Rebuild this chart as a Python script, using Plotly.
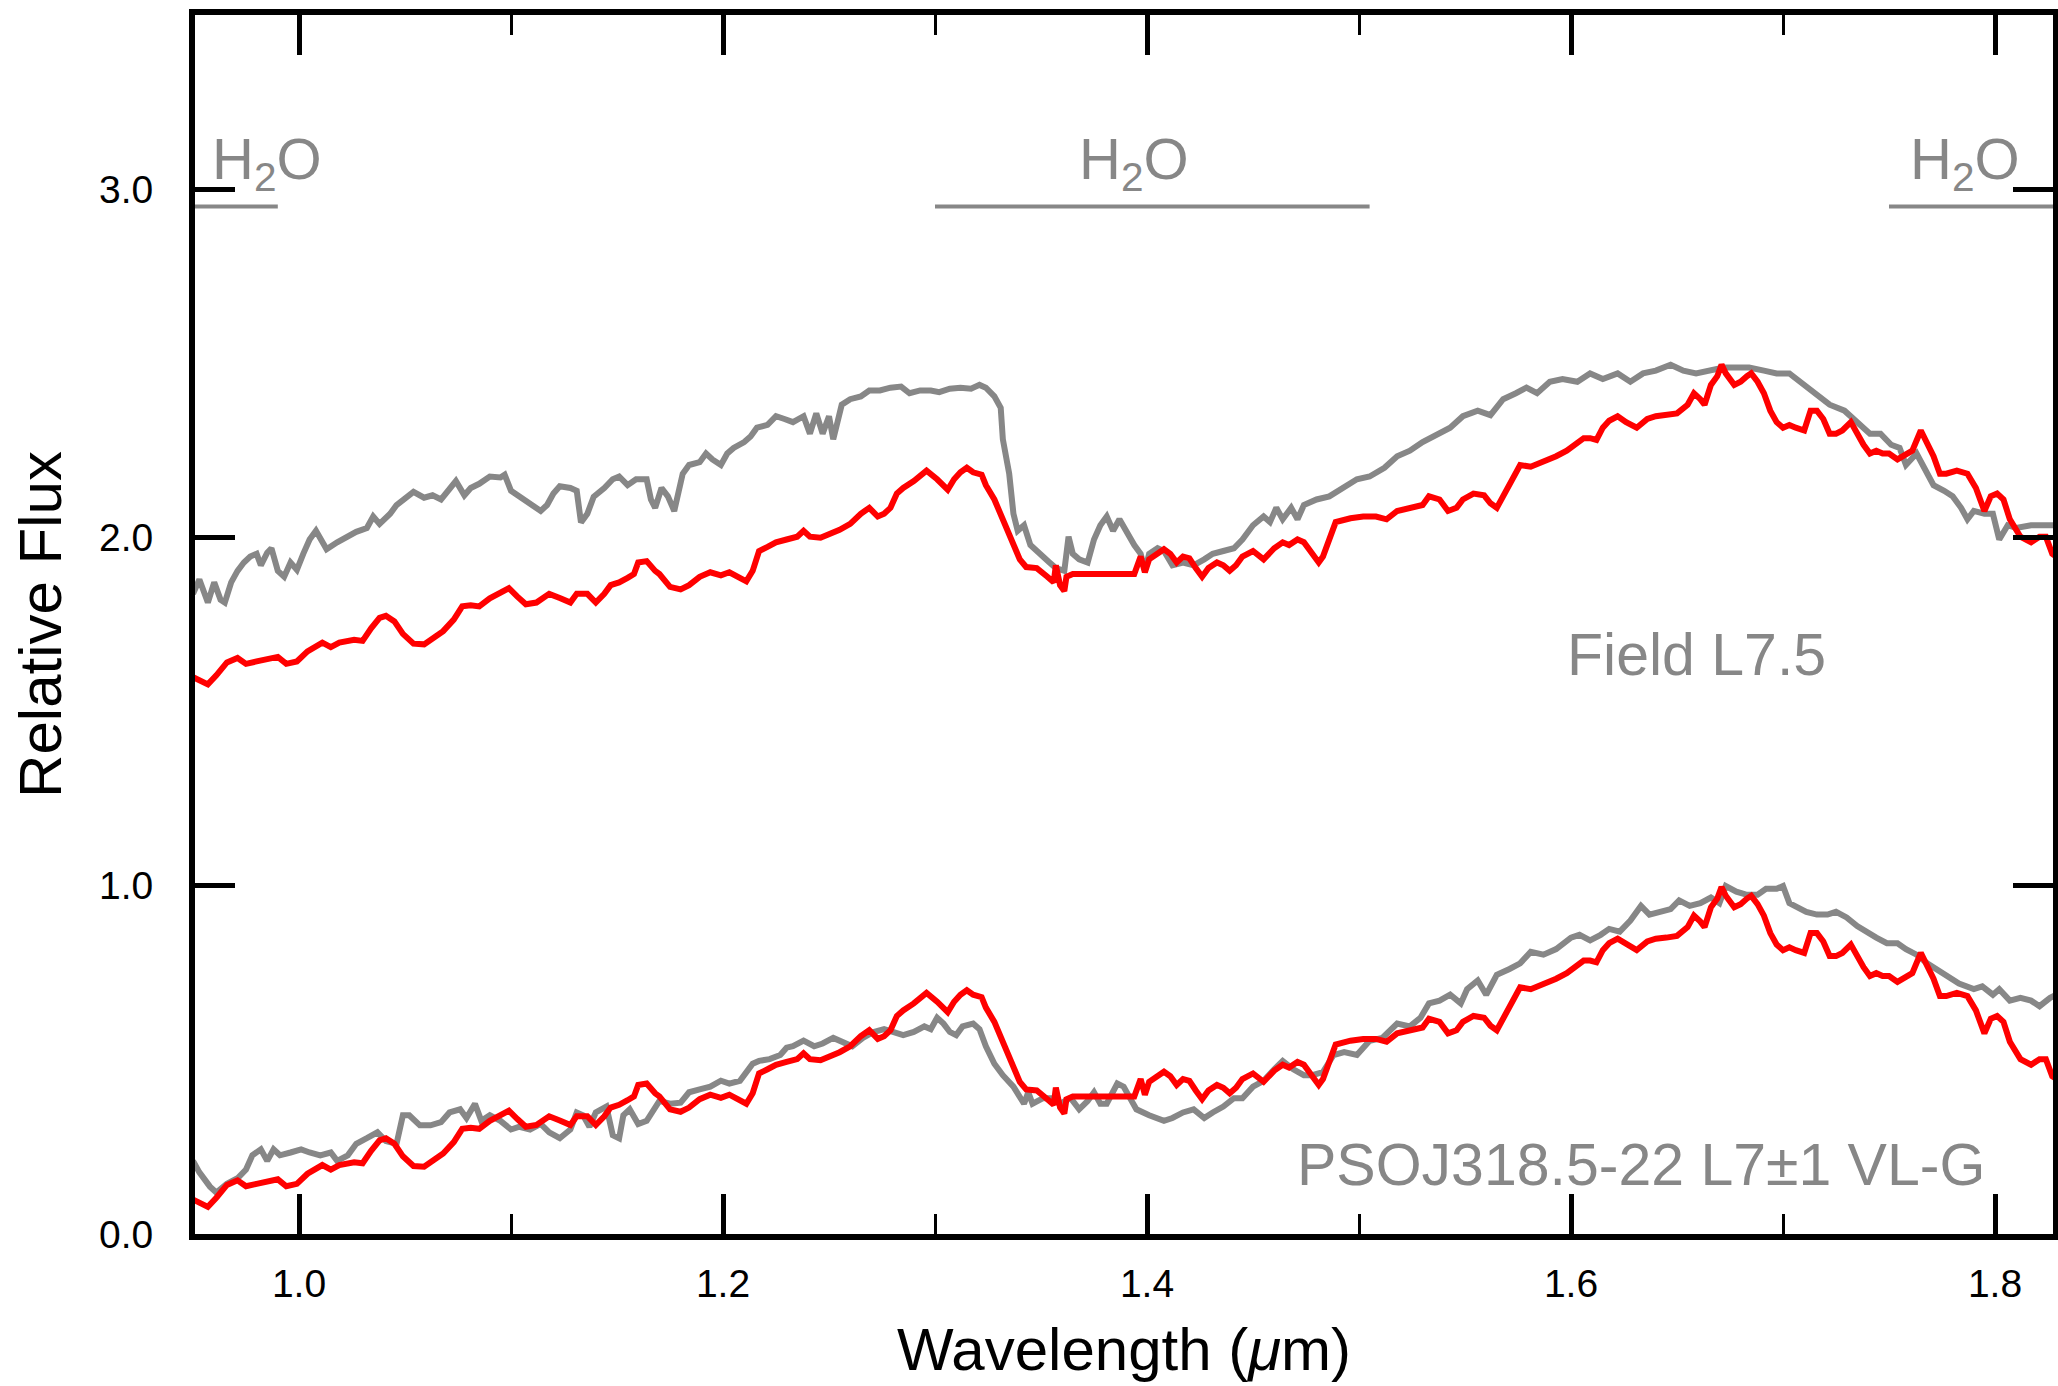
import plotly.graph_objects as go

# ---------------- data ----------------
# PSO J318.5-22 spectrum (red); drawn twice, offset for each comparison
wl_red = [0.950, 0.953, 0.957, 0.961, 0.966, 0.971, 0.975, 0.980, 0.985, 0.990, 0.994, 0.999,
          1.004, 1.008, 1.011, 1.015, 1.019, 1.026, 1.030, 1.034, 1.038, 1.041, 1.045, 1.049,
          1.054, 1.059, 1.063, 1.068, 1.073, 1.077, 1.081, 1.085, 1.090, 1.095, 1.099, 1.103,
          1.107, 1.112, 1.118, 1.123, 1.128, 1.131, 1.136, 1.140, 1.144, 1.147, 1.151, 1.155,
          1.158, 1.160, 1.164, 1.168, 1.170, 1.175, 1.180, 1.184, 1.189, 1.194, 1.199, 1.203,
          1.208, 1.211, 1.214, 1.217, 1.221, 1.225, 1.230, 1.235, 1.238, 1.241, 1.246, 1.251,
          1.255, 1.260, 1.265, 1.269, 1.273, 1.276, 1.279, 1.282, 1.285, 1.290, 1.295, 1.296,
          1.301, 1.306, 1.309, 1.312, 1.315, 1.318, 1.322, 1.324, 1.328, 1.331, 1.334, 1.337,
          1.340, 1.343, 1.348, 1.353, 1.356, 1.357, 1.359, 1.361, 1.362, 1.365, 1.394, 1.397,
          1.399, 1.401, 1.405, 1.408, 1.411, 1.414, 1.417, 1.420, 1.423, 1.426, 1.429, 1.433,
          1.436, 1.439, 1.442, 1.445, 1.450, 1.455, 1.460, 1.464, 1.467, 1.471, 1.474, 1.477,
          1.481, 1.483, 1.486, 1.489, 1.496, 1.502, 1.508, 1.513, 1.518, 1.524, 1.530, 1.533,
          1.538, 1.542, 1.546, 1.549, 1.554, 1.559, 1.562, 1.565, 1.568, 1.573, 1.576, 1.581,
          1.587, 1.593, 1.598, 1.603, 1.606, 1.609, 1.612, 1.615, 1.618, 1.622, 1.626, 1.631,
          1.636, 1.640, 1.645, 1.650, 1.655, 1.658, 1.661, 1.663, 1.666, 1.669, 1.671, 1.673,
          1.677, 1.680, 1.683, 1.685, 1.688, 1.691, 1.694, 1.697, 1.700, 1.703, 1.706, 1.710,
          1.713, 1.716, 1.719, 1.722, 1.725, 1.728, 1.732, 1.735, 1.738, 1.741, 1.744, 1.747,
          1.750, 1.754, 1.757, 1.761, 1.765, 1.768, 1.771, 1.774, 1.777, 1.782, 1.787, 1.791,
          1.795, 1.798, 1.801, 1.804, 1.807, 1.812, 1.817, 1.821, 1.824, 1.827, 1.829]
flux_red = [0.099, 0.091, 0.078, 0.104, 0.141, 0.154, 0.137, 0.144, 0.149, 0.157, 0.137, 0.144,
            0.173, 0.190, 0.198, 0.185, 0.198, 0.206, 0.203, 0.239, 0.269, 0.275, 0.259, 0.223,
            0.195, 0.193, 0.210, 0.231, 0.264, 0.302, 0.305, 0.302, 0.325, 0.341, 0.354, 0.330,
            0.308, 0.313, 0.338, 0.326, 0.313, 0.338, 0.338, 0.313, 0.338, 0.363, 0.371, 0.384,
            0.395, 0.428, 0.432, 0.404, 0.395, 0.358, 0.351, 0.363, 0.387, 0.400, 0.391, 0.400,
            0.384, 0.374, 0.404, 0.461, 0.473, 0.486, 0.494, 0.502, 0.519, 0.502, 0.499, 0.511,
            0.522, 0.539, 0.568, 0.585, 0.560, 0.568, 0.585, 0.626, 0.642, 0.662, 0.683, 0.692,
            0.667, 0.637, 0.667, 0.687, 0.700, 0.687, 0.680, 0.650, 0.609, 0.568, 0.519, 0.478,
            0.437, 0.415, 0.412, 0.387, 0.371, 0.420, 0.363, 0.346, 0.387, 0.395, 0.395, 0.445,
            0.400, 0.437, 0.456, 0.466, 0.453, 0.428, 0.445, 0.440, 0.412, 0.387, 0.412, 0.428,
            0.420, 0.404, 0.420, 0.445, 0.461, 0.437, 0.469, 0.486, 0.478, 0.494, 0.486, 0.461,
            0.428, 0.445, 0.494, 0.544, 0.555, 0.560, 0.560, 0.552, 0.576, 0.585, 0.593, 0.618,
            0.609, 0.576, 0.585, 0.609, 0.626, 0.621, 0.598, 0.585, 0.618, 0.675, 0.708, 0.703,
            0.716, 0.733, 0.749, 0.774, 0.785, 0.785, 0.780, 0.815, 0.835, 0.848, 0.831, 0.815,
            0.840, 0.848, 0.851, 0.856, 0.881, 0.914, 0.897, 0.881, 0.938, 0.963, 0.996, 0.971,
            0.938, 0.947, 0.963, 0.971, 0.947, 0.914, 0.864, 0.831, 0.815, 0.823, 0.815, 0.807,
            0.864, 0.864, 0.840, 0.798, 0.798, 0.807, 0.831, 0.798, 0.766, 0.741, 0.749, 0.741,
            0.741, 0.724, 0.733, 0.749, 0.807, 0.774, 0.733, 0.683, 0.683, 0.692, 0.683, 0.642,
            0.576, 0.618, 0.626, 0.609, 0.552, 0.502, 0.486, 0.502, 0.502, 0.453, 0.445]
red_offsets = [1.5, 0.0]

# Field L7.5 template (upper grey)
wl_field = [0.950, 0.953, 0.957, 0.960, 0.963, 0.965, 0.968, 0.971, 0.974, 0.977, 0.980, 0.982,
            0.985, 0.987, 0.990, 0.993, 0.996, 0.999, 1.002, 1.005, 1.008, 1.010, 1.013, 1.018,
            1.023, 1.027, 1.032, 1.035, 1.038, 1.043, 1.046, 1.051, 1.054, 1.059, 1.063, 1.067,
            1.071, 1.074, 1.078, 1.081, 1.085, 1.090, 1.095, 1.097, 1.100, 1.104, 1.109, 1.114,
            1.117, 1.120, 1.123, 1.128, 1.131, 1.133, 1.136, 1.139, 1.144, 1.148, 1.151, 1.155,
            1.159, 1.164, 1.166, 1.168, 1.171, 1.174, 1.177, 1.179, 1.181, 1.184, 1.189, 1.192,
            1.195, 1.199, 1.202, 1.205, 1.210, 1.213, 1.216, 1.221, 1.225, 1.229, 1.233, 1.238,
            1.241, 1.244, 1.247, 1.250, 1.252, 1.254, 1.256, 1.260, 1.265, 1.269, 1.274, 1.279,
            1.284, 1.288, 1.293, 1.298, 1.302, 1.307, 1.312, 1.317, 1.321, 1.324, 1.328, 1.331,
            1.332, 1.335, 1.337, 1.339, 1.342, 1.345, 1.350, 1.354, 1.357, 1.361, 1.363, 1.365,
            1.368, 1.372, 1.375, 1.378, 1.381, 1.384, 1.387, 1.390, 1.394, 1.397, 1.399, 1.401,
            1.405, 1.408, 1.412, 1.417, 1.422, 1.427, 1.431, 1.436, 1.441, 1.445, 1.450, 1.455,
            1.458, 1.461, 1.464, 1.468, 1.471, 1.474, 1.480, 1.486, 1.493, 1.499, 1.505, 1.512,
            1.518, 1.524, 1.530, 1.537, 1.543, 1.549, 1.556, 1.562, 1.568, 1.574, 1.579, 1.584,
            1.590, 1.596, 1.603, 1.609, 1.615, 1.622, 1.628, 1.634, 1.640, 1.647, 1.653, 1.659,
            1.666, 1.672, 1.678, 1.684, 1.691, 1.697, 1.703, 1.710, 1.716, 1.722, 1.729, 1.735,
            1.741, 1.746, 1.751, 1.755, 1.758, 1.763, 1.766, 1.771, 1.776, 1.780, 1.784, 1.787,
            1.790, 1.795, 1.799, 1.802, 1.806, 1.810, 1.817, 1.823, 1.829]
flux_field = [1.838, 1.879, 1.813, 1.871, 1.821, 1.813, 1.871, 1.904, 1.928, 1.945, 1.953, 1.920,
              1.956, 1.969, 1.904, 1.887, 1.928, 1.907, 1.953, 1.994, 2.019, 1.994, 1.966, 1.986,
              2.002, 2.016, 2.027, 2.060, 2.039, 2.068, 2.093, 2.114, 2.131, 2.114, 2.121, 2.109,
              2.142, 2.162, 2.121, 2.142, 2.154, 2.175, 2.172, 2.180, 2.134, 2.117, 2.098, 2.076,
              2.093, 2.126, 2.147, 2.142, 2.134, 2.043, 2.068, 2.117, 2.142, 2.167, 2.175, 2.150,
              2.167, 2.167, 2.109, 2.085, 2.142, 2.118, 2.076, 2.134, 2.183, 2.208, 2.216, 2.241,
              2.224, 2.208, 2.241, 2.257, 2.274, 2.290, 2.315, 2.323, 2.348, 2.340, 2.331, 2.348,
              2.298, 2.356, 2.298, 2.348, 2.282, 2.331, 2.381, 2.397, 2.405, 2.422, 2.422, 2.430,
              2.433, 2.414, 2.422, 2.422, 2.417, 2.427, 2.430, 2.427, 2.438, 2.430, 2.405, 2.372,
              2.282, 2.183, 2.068, 2.019, 2.035, 1.978, 1.953, 1.928, 1.912, 1.904, 2.002, 1.953,
              1.937, 1.928, 1.994, 2.035, 2.060, 2.019, 2.052, 2.019, 1.978, 1.953, 1.904, 1.953,
              1.969, 1.961, 1.920, 1.928, 1.920, 1.937, 1.953, 1.961, 1.969, 1.994, 2.035, 2.060,
              2.044, 2.085, 2.052, 2.085, 2.052, 2.093, 2.109, 2.118, 2.142, 2.167, 2.175, 2.200,
              2.233, 2.249, 2.274, 2.298, 2.315, 2.348, 2.364, 2.351, 2.397, 2.414, 2.430, 2.414,
              2.447, 2.455, 2.447, 2.471, 2.455, 2.471, 2.447, 2.471, 2.479, 2.496, 2.479, 2.471,
              2.479, 2.488, 2.488, 2.488, 2.479, 2.471, 2.471, 2.438, 2.405, 2.381, 2.364, 2.331,
              2.298, 2.298, 2.266, 2.257, 2.208, 2.241, 2.208, 2.150, 2.134, 2.118, 2.085, 2.052,
              2.076, 2.068, 2.068, 1.994, 2.035, 2.027, 2.035, 2.035, 2.035]

# VL-G L7 template (lower grey)
wl_vlg = [0.950, 0.953, 0.958, 0.961, 0.966, 0.971, 0.975, 0.978, 0.982, 0.985, 0.988, 0.991,
          0.996, 1.001, 1.005, 1.010, 1.015, 1.018, 1.023, 1.027, 1.032, 1.037, 1.041, 1.046,
          1.049, 1.052, 1.057, 1.062, 1.067, 1.071, 1.076, 1.079, 1.083, 1.086, 1.090, 1.095,
          1.100, 1.104, 1.109, 1.114, 1.118, 1.123, 1.128, 1.131, 1.134, 1.137, 1.140, 1.145,
          1.148, 1.151, 1.153, 1.156, 1.160, 1.164, 1.170, 1.175, 1.180, 1.184, 1.189, 1.194,
          1.199, 1.203, 1.208, 1.211, 1.214, 1.217, 1.222, 1.227, 1.230, 1.233, 1.238, 1.243,
          1.247, 1.252, 1.257, 1.261, 1.266, 1.271, 1.276, 1.280, 1.285, 1.290, 1.295, 1.298,
          1.301, 1.304, 1.307, 1.310, 1.313, 1.318, 1.321, 1.324, 1.328, 1.332, 1.337, 1.342,
          1.344, 1.346, 1.351, 1.356, 1.359, 1.364, 1.368, 1.372, 1.375, 1.378, 1.381, 1.386,
          1.389, 1.392, 1.395, 1.401, 1.408, 1.412, 1.417, 1.422, 1.427, 1.431, 1.436, 1.441,
          1.445, 1.450, 1.455, 1.460, 1.464, 1.469, 1.474, 1.478, 1.483, 1.488, 1.493, 1.499,
          1.505, 1.511, 1.518, 1.524, 1.529, 1.533, 1.538, 1.543, 1.548, 1.551, 1.556, 1.560,
          1.565, 1.571, 1.576, 1.581, 1.587, 1.593, 1.600, 1.604, 1.609, 1.614, 1.618, 1.623,
          1.628, 1.633, 1.637, 1.642, 1.647, 1.651, 1.656, 1.661, 1.666, 1.670, 1.673, 1.678,
          1.683, 1.688, 1.692, 1.697, 1.700, 1.703, 1.706, 1.711, 1.716, 1.721, 1.725, 1.730,
          1.735, 1.739, 1.744, 1.749, 1.754, 1.758, 1.763, 1.768, 1.772, 1.779, 1.783, 1.790,
          1.794, 1.799, 1.802, 1.807, 1.812, 1.817, 1.821, 1.826, 1.829]
flux_vlg = [0.210, 0.177, 0.136, 0.119, 0.144, 0.160, 0.185, 0.226, 0.243, 0.210, 0.243, 0.226,
            0.234, 0.243, 0.234, 0.226, 0.234, 0.210, 0.226, 0.259, 0.275, 0.292, 0.267, 0.259,
            0.341, 0.341, 0.312, 0.312, 0.321, 0.349, 0.358, 0.333, 0.374, 0.325, 0.341, 0.325,
            0.300, 0.308, 0.300, 0.316, 0.292, 0.275, 0.300, 0.349, 0.341, 0.308, 0.349, 0.366,
            0.284, 0.275, 0.341, 0.358, 0.316, 0.325, 0.382, 0.374, 0.377, 0.407, 0.415, 0.423,
            0.440, 0.432, 0.440, 0.465, 0.489, 0.497, 0.502, 0.514, 0.535, 0.539, 0.555, 0.539,
            0.547, 0.563, 0.547, 0.539, 0.563, 0.580, 0.588, 0.580, 0.571, 0.580, 0.596, 0.588,
            0.621, 0.604, 0.580, 0.571, 0.596, 0.604, 0.588, 0.539, 0.489, 0.456, 0.423, 0.374,
            0.407, 0.374, 0.390, 0.390, 0.374, 0.390, 0.358, 0.382, 0.407, 0.374, 0.374, 0.432,
            0.423, 0.390, 0.358, 0.341, 0.325, 0.333, 0.349, 0.358, 0.333, 0.349, 0.366, 0.390,
            0.390, 0.423, 0.440, 0.473, 0.497, 0.473, 0.456, 0.456, 0.465, 0.514, 0.522, 0.514,
            0.555, 0.563, 0.604, 0.596, 0.621, 0.662, 0.670, 0.687, 0.662, 0.703, 0.728, 0.687,
            0.744, 0.761, 0.777, 0.810, 0.802, 0.818, 0.851, 0.859, 0.843, 0.859, 0.876, 0.868,
            0.900, 0.942, 0.917, 0.925, 0.933, 0.958, 0.942, 0.950, 0.966, 0.950, 0.999, 0.983,
            0.974, 0.974, 0.991, 0.991, 0.999, 0.950, 0.942, 0.925, 0.917, 0.917, 0.925, 0.909,
            0.884, 0.868, 0.851, 0.835, 0.835, 0.818, 0.802, 0.777, 0.761, 0.736, 0.719, 0.703,
            0.711, 0.687, 0.703, 0.670, 0.678, 0.670, 0.654, 0.678, 0.687]

# H2O absorption bands and labels
h2o_bands = [(0.95, 0.99), (1.30, 1.505), (1.75, 1.83)]
h2o_band_level = 2.95
h2o_label_x = [0.958, 1.394, 1.786]
h2o_label_anchor = ["left", "center", "center"]
h2o_label_y = 3.075

spectrum_labels = ["Field L7.5", "PSOJ318.5-22 L7\u00b11 VL-G"]
spectrum_label_x = [1.659, 1.633]
spectrum_label_y = [1.662, 0.198]

x_tickvals = [1.0, 1.2, 1.4, 1.6, 1.8]
y_tickvals = [0.0, 1.0, 2.0, 3.0]

# ---------------- figure ----------------
GREY = "#878787"
RED = "#ff0000"
FONT = "Liberation Sans, Arial, Helvetica, sans-serif"

fig = go.Figure()
fig.add_trace(go.Scatter(x=wl_field, y=flux_field, mode="lines",
                         line=dict(color=GREY, width=6), name="Field L7.5"))
fig.add_trace(go.Scatter(x=wl_vlg, y=flux_vlg, mode="lines",
                         line=dict(color=GREY, width=6), name="VL-G L7"))
for off in red_offsets:
    fig.add_trace(go.Scatter(x=wl_red, y=[f + off for f in flux_red], mode="lines",
                             line=dict(color=RED, width=6), name="PSOJ318.5-22"))

for (x0, x1) in h2o_bands:
    fig.add_shape(type="line", xref="x", yref="y", x0=x0, x1=x1,
                  y0=h2o_band_level, y1=h2o_band_level,
                  line=dict(color=GREY, width=4))
for xl, anc in zip(h2o_label_x, h2o_label_anchor):
    fig.add_annotation(x=xl, y=h2o_label_y, xref="x", yref="y", text="H<sub>2</sub>O",
                       showarrow=False, xanchor=anc, yanchor="middle",
                       font=dict(family=FONT, size=58, color=GREY))
for txt, xl, yl in zip(spectrum_labels, spectrum_label_x, spectrum_label_y):
    fig.add_annotation(x=xl, y=yl, xref="x", yref="y", text=txt, showarrow=False,
                       xanchor="center", yanchor="middle",
                       font=dict(family=FONT, size=59, color=GREY))

axis_common = dict(showline=True, linewidth=6, linecolor="black", mirror="ticks",
                   ticks="inside", ticklen=40, tickwidth=5, tickcolor="black",
                   showgrid=False, zeroline=False, tickformat=".1f",
                   tickfont=dict(family=FONT, size=39, color="black"))

fig.update_layout(
    width=2058, height=1386, template="none",
    paper_bgcolor="white", plot_bgcolor="white", showlegend=False,
    margin=dict(l=195, r=5, t=15, b=152, pad=0),
    xaxis=dict(range=[0.95094, 1.82736], tickvals=x_tickvals,
               minor=dict(ticks="inside", ticklen=20, tickwidth=3, tickcolor="black",
                          tick0=0.9, dtick=0.2, showgrid=False),
               ticklabelstandoff=10,
               title=dict(text="Wavelength (<i>\u03bc</i>m)", standoff=26,
                          font=dict(family=FONT, size=60, color="black")),
               **axis_common),
    yaxis=dict(range=[0, 3.5], tickvals=y_tickvals, ticklabelstandoff=28,
               title=dict(text="Relative Flux", standoff=20,
                          font=dict(family=FONT, size=60, color="black")),
               **axis_common),
)

fig.write_html("out.html")
